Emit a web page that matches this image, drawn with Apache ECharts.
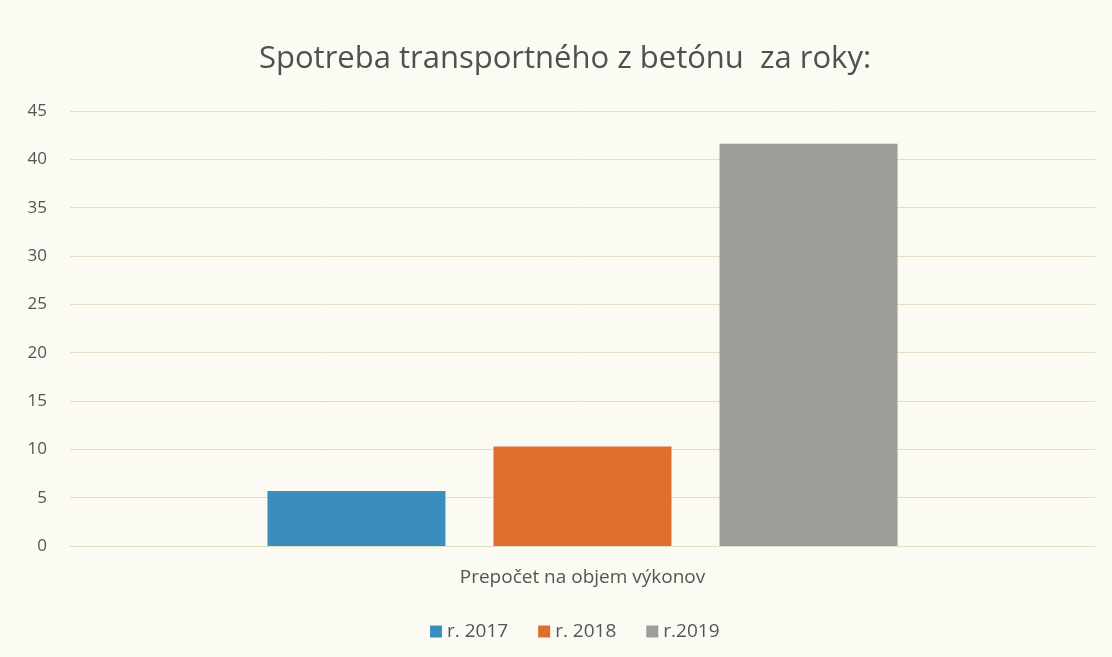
<!DOCTYPE html>
<html>
<head>
<meta charset="utf-8">
<script src="https://cdn.jsdelivr.net/npm/echarts@6/dist/echarts.min.js"></script>
<style>
  html, body { margin: 0; padding: 0; background: #fbfbf3; }
  #chart { width: 1112px; height: 657px; }
</style>
</head>
<body>
<div id="chart"></div>
<script>
// Categories, series and values
const categories = ['Prepočet na objem výkonov'];
const seriesNames = ['r. 2017', 'r. 2018', 'r.2019'];
const values2017 = [5.7];
const values2018 = [10.3];
const values2019 = [41.6];
const seriesColors = ['#3a8dbd', '#df6d2e', '#9d9d9a'];

const textColor = '#555555';
const fontFamily = '"Open Sans", "Noto Sans", sans-serif';

const chart = echarts.init(document.getElementById('chart'), null, { renderer: 'canvas' });

const seriesData = [values2017, values2018, values2019];

chart.setOption({
  backgroundColor: '#fbfbf3',
  animation: false,
  title: {
    text: 'Spotreba transportného z betónu  za roky:',
    left: 254,
    top: 39,
    textStyle: { color: '#505050', fontFamily, fontSize: 31, fontWeight: 'normal' }
  },
  legend: {
    bottom: 11,
    left: 425,
    itemWidth: 12,
    itemHeight: 12,
    itemGap: 30,
    itemTextGap: 6,
    icon: 'rect',
    textStyle: { color: textColor, fontFamily, fontSize: 19 },
    data: seriesNames
  },
  grid: { left: 70, right: 17, top: 111, bottom: 111, containLabel: false },
  xAxis: {
    type: 'category',
    data: categories,
    axisLine: { show: true, lineStyle: { color: '#e2dec6', width: 1 } },
    axisTick: { show: false },
    axisLabel: { color: textColor, fontFamily, fontSize: 19, margin: 22 }
  },
  yAxis: {
    type: 'value',
    min: 0,
    max: 45,
    interval: 5,
    axisLine: { show: false },
    axisTick: { show: false },
    axisLabel: { color: textColor, fontFamily, fontSize: 17, margin: 23 },
    splitLine: { lineStyle: { color: '#e2dec6', width: 1 } }
  },
  series: seriesNames.map((name, i) => ({
    name,
    type: 'bar',
    data: seriesData[i],
    barWidth: 178,
    barGap: '27%',
    itemStyle: { color: seriesColors[i] }
  }))
});
</script>
</body>
</html>
